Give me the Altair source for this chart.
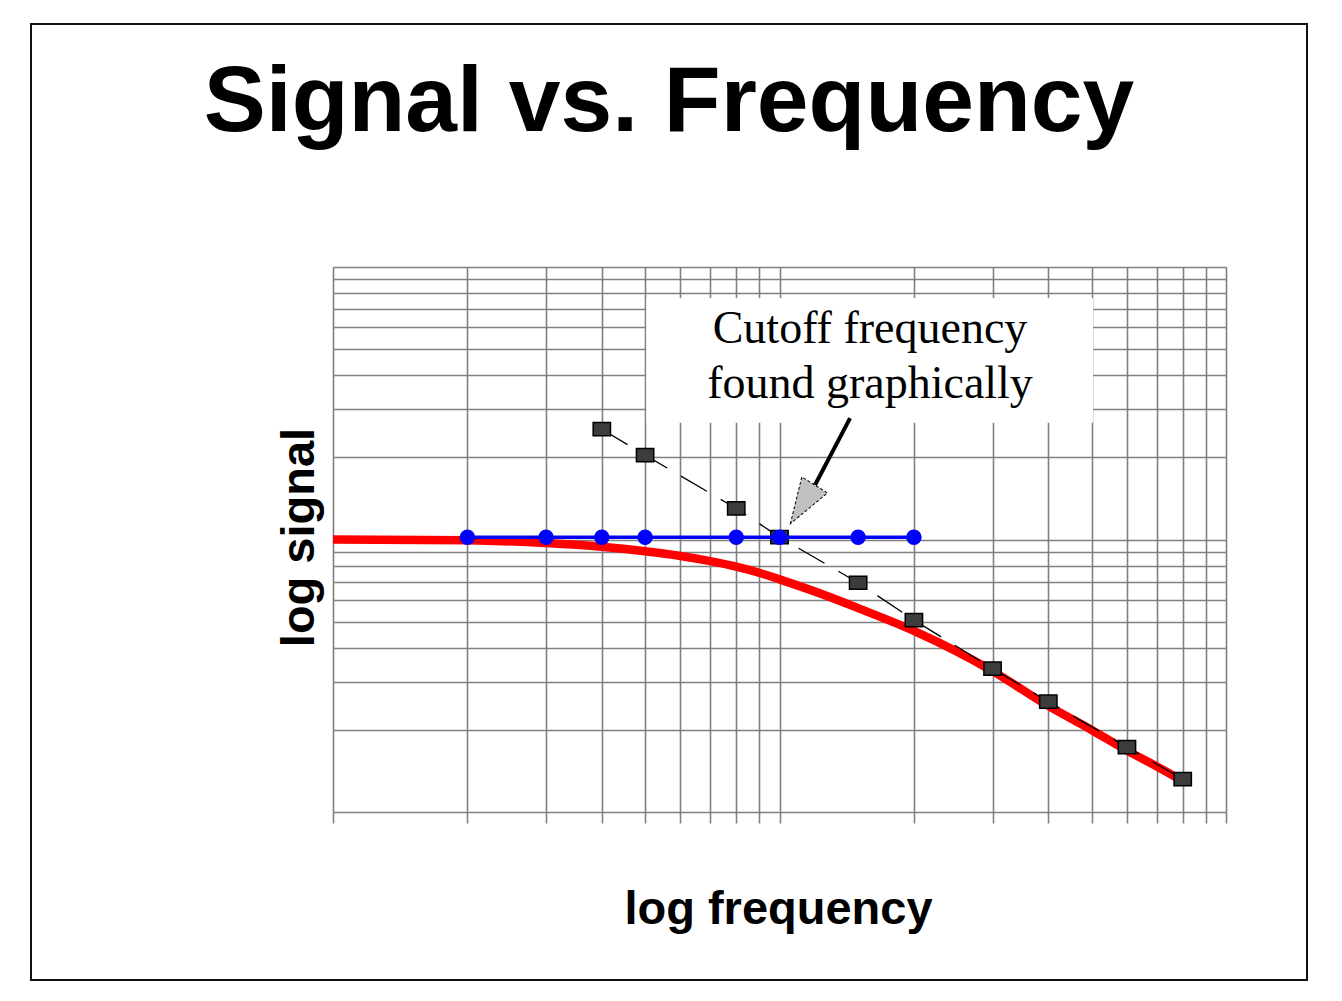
import altair as alt
import pandas as pd

# ---- data ----
freq_red = [1, 2, 3, 4, 5, 6, 7, 8, 9, 10, 13, 15, 20, 30, 40, 50, 60, 70, 80]
sig_red = [1.0, 0.993, 0.97, 0.94, 0.905, 0.87, 0.833, 0.795, 0.755, 0.714,
           0.614, 0.56, 0.462, 0.329, 0.245, 0.2, 0.168, 0.147, 0.13]

freq_blue = [2, 3, 4, 5, 8, 10, 15, 20]
sig_blue = [1.02, 1.02, 1.02, 1.02, 1.02, 1.02, 1.02, 1.02]

freq_sq = [4, 5, 8, 10, 15, 20, 30, 40, 60, 80]
sig_sq = [2.54, 2.04, 1.30, 1.02, 0.694, 0.506, 0.336, 0.254, 0.173, 0.132]

x_ticks = [1, 2, 3, 4, 5, 6, 7, 8, 9, 10, 20, 30, 40, 50, 60, 70, 80, 90, 100]
y_ticks = [0.1, 0.2, 0.3, 0.4, 0.5, 0.6, 0.7, 0.8, 0.9, 1, 2, 3, 4, 5, 6, 7, 8, 9, 10]

title_text = "Signal vs. Frequency"
x_title = "log frequency"
y_title = "log signal"
note_lines = ["Cutoff frequency", "found graphically"]

# annotation box (data coordinates) and arrow
box_x = [5.03, 50.4]
box_y = [2.68, 7.7]
arrow_x = [14.39, 12.01]
arrow_y = [2.79, 1.585]
head_x = [11.26]
head_y = [1.346]

GRID = "#808080"
W, H = 893, 545

xscale = alt.Scale(type="log", domain=[1, 100], nice=False)
yscale = alt.Scale(type="log", domain=[0.1, 10], nice=False)

x_axis = alt.Axis(values=x_ticks, labels=False, ticks=True, tickSize=11,
                  tickColor=GRID, tickWidth=1.6, domain=False, grid=True,
                  gridColor=GRID, gridWidth=1.6, gridOpacity=1,
                  title=x_title, titleFont="Liberation Sans", titleFontSize=47,
                  titleFontWeight="bold", titleColor="black", titleX=445,
                  titleY=111, titleAlign="center", titleBaseline="alphabetic",
                  titleAngle=0)
y_axis = alt.Axis(values=y_ticks, labels=False, ticks=False, domain=False,
                  grid=True, gridColor=GRID, gridWidth=1.6, gridOpacity=1,
                  title=y_title, titleFont="Liberation Sans", titleFontSize=47,
                  titleFontWeight="bold", titleColor="black", titleAngle=270,
                  titleX=-20, titleY=270, titleAlign="center",
                  titleBaseline="alphabetic")

one = pd.DataFrame({"a": [0]})

box_df = pd.DataFrame({"x0": [box_x[0]], "x1": [box_x[1]],
                       "y0": [box_y[0]], "y1": [box_y[1]]})
box = alt.Chart(box_df).mark_rect(fill="white", strokeWidth=0).encode(
    x=alt.X("x0:Q", scale=xscale, axis=x_axis),
    x2="x1:Q",
    y=alt.Y("y0:Q", scale=yscale, axis=y_axis),
    y2="y1:Q",
)

red_df = pd.DataFrame({"f": freq_red, "s": sig_red})
red = alt.Chart(red_df).mark_line(color="#ff0000", strokeWidth=8.5,
                                  interpolate="monotone").encode(
    x=alt.X("f:Q", scale=xscale), y=alt.Y("s:Q", scale=yscale))

sq_df = pd.DataFrame({"f": freq_sq, "s": sig_sq})
sq_line = alt.Chart(sq_df).mark_line(color="black", strokeWidth=1.3,
                                     strokeDash=[30, 16]).encode(
    x=alt.X("f:Q", scale=xscale), y=alt.Y("s:Q", scale=yscale))
sq_pts = alt.Chart(sq_df).mark_point(
    shape="M-1,-0.76L1,-0.76L1,0.76L-1,0.76Z", size=300, filled=True,
    fill="#3c3c3c", stroke="black", strokeWidth=1.5, opacity=1).encode(
    x=alt.X("f:Q", scale=xscale), y=alt.Y("s:Q", scale=yscale))

blue_df = pd.DataFrame({"f": freq_blue, "s": sig_blue})
blue_line = alt.Chart(blue_df).mark_line(color="#0000ff", strokeWidth=3.5).encode(
    x=alt.X("f:Q", scale=xscale), y=alt.Y("s:Q", scale=yscale))
blue_pts = alt.Chart(blue_df).mark_point(shape="circle", size=240, filled=True,
                                         color="#0000ff", opacity=1).encode(
    x=alt.X("f:Q", scale=xscale), y=alt.Y("s:Q", scale=yscale))

arrow_df = pd.DataFrame({"x0": [arrow_x[0]], "x1": [arrow_x[1]],
                         "y0": [arrow_y[0]], "y1": [arrow_y[1]]})
shaft = alt.Chart(arrow_df).mark_rule(color="black", strokeWidth=4).encode(
    x=alt.X("x0:Q", scale=xscale), x2="x1:Q",
    y=alt.Y("y0:Q", scale=yscale), y2="y1:Q")

head_df = pd.DataFrame({"f": head_x, "s": head_y})
head = alt.Chart(head_df).mark_point(
    shape="M0,1L-0.66,-1L0.66,-1Z", size=2100, angle=32, filled=True,
    fill="#c0c0c0", stroke="black", strokeWidth=1, strokeDash=[3, 2],
    opacity=1).encode(
    x=alt.X("f:Q", scale=xscale), y=alt.Y("s:Q", scale=yscale))

note1 = alt.Chart(one).mark_text(text=note_lines[0], font="Liberation Serif",
                                 fontSize=46, color="black", align="center",
                                 baseline="alphabetic").encode(
    x=alt.value(537), y=alt.value(76))
note2 = alt.Chart(one).mark_text(text=note_lines[1], font="Liberation Serif",
                                 fontSize=46, color="black", align="center",
                                 baseline="alphabetic").encode(
    x=alt.value(537), y=alt.value(131))

title = alt.Chart(one).mark_text(text=title_text, font="Liberation Sans",
                                 fontSize=93, fontWeight="bold", color="black",
                                 align="center", baseline="alphabetic").encode(
    x=alt.value(336), y=alt.value(-136))

frame = alt.Chart(one).mark_rect(fill="transparent", stroke="#111111",
                                 strokeWidth=2).encode(
    x=alt.value(-302), x2=alt.value(974), y=alt.value(-243), y2=alt.value(713))

chart = alt.layer(
    box, red, sq_line, sq_pts, blue_line, blue_pts, shaft, head,
    note1, note2, title, frame
).properties(
    width=W, height=H,
    autosize=alt.AutoSizeParams(type="none"),
    padding={"left": 325, "top": 259, "right": 108, "bottom": 171},
    background="white",
).configure_view(strokeWidth=0)

chart.save("out.html", embed_options={"renderer": "svg", "actions": False})
